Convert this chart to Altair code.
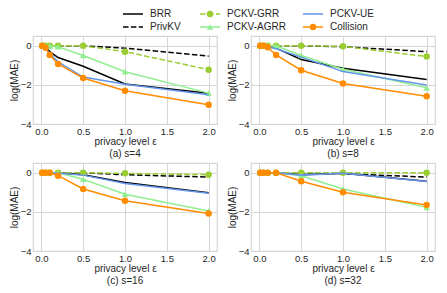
import altair as alt
import pandas as pd

# ---------------- data ----------------
EPS = [0.01, 0.05, 0.1, 0.2, 0.5, 1.0, 2.0]
SERIES = ["BRR", "PrivKV", "PCKV-GRR", "PCKV-AGRR", "PCKV-UE", "Collision"]
CAPTIONS = ["(a) s=4", "(b) s=8", "(c) s=16", "(d) s=32"]

# log(MAE) per panel, per series
S4 = {
    "BRR":       [0, -0.08, -0.30, -0.60, -1.05, -1.95, -2.43],
    "PrivKV":    [0, 0, 0, 0, 0, -0.12, -0.53],
    "PCKV-GRR":  [0, 0, 0, 0, 0, -0.30, -1.22],
    "PCKV-AGRR": [0, 0, -0.02, -0.05, -0.50, -1.33, -2.42],
    "PCKV-UE":   [0, -0.10, -0.40, -0.82, -1.60, -1.97, -2.50],
    "Collision": [0, -0.10, -0.47, -0.93, -1.65, -2.30, -3.02],
}
S8 = {
    "BRR":       [0, 0, -0.05, -0.12, -0.70, -1.15, -1.72],
    "PrivKV":    [0, 0, 0, 0, 0, -0.05, -0.30],
    "PCKV-GRR":  [0, 0, 0, 0, 0, -0.03, -0.55],
    "PCKV-AGRR": [0, 0, 0, 0, -0.50, -1.20, -2.15],
    "PCKV-UE":   [0, -0.02, -0.05, -0.15, -0.58, -1.32, -2.00],
    "Collision": [0, 0, -0.08, -0.47, -1.25, -1.93, -2.58],
}
S16 = {
    "BRR":       [0, 0, 0, 0, -0.10, -0.50, -1.02],
    "PrivKV":    [0, 0, 0, 0, 0, -0.10, -0.22],
    "PCKV-GRR":  [0, 0, 0, 0, 0, -0.03, -0.10],
    "PCKV-AGRR": [0, 0, 0, 0, -0.33, -1.10, -1.95],
    "PCKV-UE":   [0, 0, 0, -0.02, -0.12, -0.55, -1.05],
    "Collision": [0, 0, 0, -0.15, -0.83, -1.43, -2.08],
}
S32 = {
    "BRR":       [0, 0, 0, 0, -0.10, -0.02, -0.43],
    "PrivKV":    [0, 0, 0, 0, 0, -0.05, -0.22],
    "PCKV-GRR":  [0, 0, 0, 0, 0, 0, 0],
    "PCKV-AGRR": [0, 0, 0, 0, -0.15, -0.83, -1.77],
    "PCKV-UE":   [0, 0, 0, 0, -0.12, -0.02, -0.45],
    "Collision": [0, 0, 0, 0, -0.43, -1.00, -1.65],
}
PANELS = [S4, S8, S16, S32]

# ---------------- styles ----------------
COLORS = ["#000000", "#000000", "#9acd32", "#90ee90", "#6495ed", "#ff8c00"]
DASHES = [[1, 0], [5.5, 2.4], [5.5, 2.4], [1, 0], [1, 0], [1, 0]]
MARKERS = ["", "", "circle", "triangle-up", "", "circle"]
TEXT = "#262626"
GRID = "#d6d6d6"
FONT = "Liberation Sans"
PW, PH = 184, 88

rows = []
for p, panel in enumerate(PANELS):
    for s in SERIES:
        for x, y in zip(EPS, panel[s]):
            rows.append({"panel": p, "series": s, "eps": x, "mae": y})
df = pd.DataFrame(rows)

xenc = alt.X("eps:Q", scale=alt.Scale(domain=[-0.1, 2.1], nice=False, zero=False),
             axis=alt.Axis(values=[0, 0.5, 1.0, 1.5, 2.0], format=".1f",
                           title="privacy level ε"))
yenc = alt.Y("mae:Q", scale=alt.Scale(domain=[-4, 0.5], nice=False, zero=False),
             axis=alt.Axis(values=[-4, -2, 0], format="d", title="log(MAE)"))


def panel_chart(p):
    base = alt.Chart(df).transform_filter(alt.datum.panel == p)
    layers = []
    for i, s in enumerate(SERIES):
        b = base.transform_filter(alt.datum.series == s)
        kw = dict(color=COLORS[i], strokeWidth=1.5)
        if DASHES[i][1] > 0:
            kw["strokeDash"] = DASHES[i]
        layers.append(b.mark_line(**kw).encode(x=xenc, y=yenc))
        if MARKERS[i]:
            layers.append(
                b.mark_point(shape=MARKERS[i], filled=True, size=42, opacity=1,
                             color=COLORS[i]).encode(x=xenc, y=yenc))
    return alt.layer(*layers).properties(
        width=PW, height=PH,
        title=alt.TitleParams(CAPTIONS[p], orient="bottom", fontSize=10,
                              fontWeight="normal", color=TEXT, offset=2, font=FONT),
    )


# ---------------- legend (3 columns x 2 rows, column-major) ----------------
LEG_W = 380
LEG_H = 22
LEG_COL_X = [90, 167, 270]
leg = pd.DataFrame({
    "series": SERIES,
    "row": [i % 2 for i in range(len(SERIES))],
    "x0": [LEG_COL_X[i // 2] for i in range(len(SERIES))],
    "marker": MARKERS,
})
leg["x1"] = leg["x0"] + 20
leg["xm"] = leg["x0"] + 10
leg["xt"] = leg["x0"] + 27

lx = alt.Scale(domain=[0, LEG_W], nice=False, zero=False)
ly = alt.Scale(domain=[-5 / 13, (LEG_H - 5) / 13], nice=False, zero=False, reverse=True)
cscale = alt.Scale(domain=SERIES, range=COLORS)
dscale = alt.Scale(domain=SERIES, range=DASHES)
mk = [m for m in MARKERS if m]
ms = [s for s, m in zip(SERIES, MARKERS) if m]

lbase = alt.Chart(leg)
l_rule = lbase.mark_rule(strokeWidth=1.5).encode(
    x=alt.X("x0:Q", scale=lx, axis=None), x2="x1:Q",
    y=alt.Y("row:Q", scale=ly, axis=None),
    color=alt.Color("series:N", scale=cscale, legend=None),
    strokeDash=alt.StrokeDash("series:N", scale=dscale, legend=None),
)
l_pt = lbase.transform_filter(alt.datum.marker != "").mark_point(
    filled=True, size=42, opacity=1).encode(
    x=alt.X("xm:Q", scale=lx, axis=None),
    y=alt.Y("row:Q", scale=ly, axis=None),
    color=alt.Color("series:N", scale=cscale, legend=None),
    shape=alt.Shape("series:N", scale=alt.Scale(domain=ms, range=mk), legend=None),
)
l_txt = lbase.mark_text(align="left", baseline="middle", fontSize=10,
                        color=TEXT, font=FONT).encode(
    x=alt.X("xt:Q", scale=lx, axis=None),
    y=alt.Y("row:Q", scale=ly, axis=None),
    text="series:N",
)
legend = alt.layer(l_rule, l_pt, l_txt).properties(
    width=LEG_W, height=LEG_H, view=alt.ViewBackground(stroke="transparent"))

chart = alt.vconcat(
    legend,
    alt.hconcat(panel_chart(0), panel_chart(1), spacing=8),
    alt.hconcat(panel_chart(2), panel_chart(3), spacing=8),
    spacing=2,
).properties(padding=0).configure(font=FONT).configure_view(
    stroke=GRID, strokeWidth=1.2
).configure_axis(
    grid=True, gridColor=GRID, gridWidth=1, domain=False, ticks=False,
    labelFont=FONT, titleFont=FONT, labelFontSize=9.5, titleFontSize=10,
    labelColor=TEXT, titleColor=TEXT, titleFontWeight="normal",
    labelPadding=2, titlePadding=1,
)

chart.save("out.html", embed_options={"renderer": "svg", "actions": False})
